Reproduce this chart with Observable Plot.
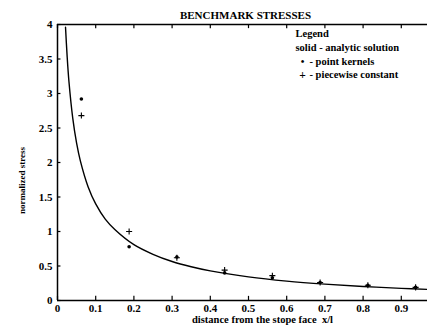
<!DOCTYPE html>
<html>
<head>
<meta charset="utf-8">
<script src="https://cdn.jsdelivr.net/npm/d3@7"></script>
<script src="https://cdn.jsdelivr.net/npm/@observablehq/plot@0.6"></script>
<style>
  html, body { margin: 0; padding: 0; background: #fff; }
  svg { display: block; }
  svg text { font-family: 'Liberation Serif', 'DejaVu Serif', serif !important; font-weight: bold; }
</style>
</head>
<body>
<div id="chart"></div>
<script>
// Analytic solution (solid curve)
const curveX = [0.021, 0.025, 0.03, 0.04, 0.05, 0.06, 0.08, 0.1, 0.125, 0.15, 0.2, 0.25, 0.3, 0.35, 0.4, 0.5, 0.6, 0.7, 0.8, 0.9, 0.97];
const curveY = [3.96, 3.56, 3.17, 2.64, 2.28, 2.02, 1.65, 1.40, 1.18, 1.03, 0.81, 0.67, 0.565, 0.489, 0.429, 0.342, 0.281, 0.237, 0.203, 0.176, 0.161];

// Sample positions
const sampleX = [0.0625, 0.1875, 0.3125, 0.4375, 0.5625, 0.6875, 0.8125, 0.9375];
// point kernels (dots)
const kernelY = [2.92, 0.78, 0.63, 0.40, 0.33, 0.26, 0.22, 0.19];
// piecewise constant (plus)
const piecewiseY = [2.68, 1.00, 0.62, 0.44, 0.36, 0.26, 0.22, 0.19];

const xTicks = [0, 0.1, 0.2, 0.3, 0.4, 0.5, 0.6, 0.7, 0.8, 0.9];
const yTicks = [0, 0.5, 1, 1.5, 2, 2.5, 3, 3.5, 4];

const title = "BENCHMARK STRESSES";
const xLabel = "distance from the stope face  x/l";
const yLabel = "normalized stress";
const legendLines = ["Legend", "solid - analytic solution"];
const legendSymbols = ["•", "+"];
const legendEntries = ["- point kernels", "- piecewise constant"];

const curve = curveX.map((x, i) => ({x, y: curveY[i]}));
const kernels = sampleX.map((x, i) => ({x, y: kernelY[i]}));
const piecewise = sampleX.map((x, i) => ({x, y: piecewiseY[i]}));

const font = "'Liberation Serif', 'DejaVu Serif', serif";
const T = {fontFamily: font, fontWeight: "bold"};

const chart = Plot.plot({
  width: 427,
  height: 334,
  marginLeft: 57,
  marginRight: 0,
  marginTop: 24,
  marginBottom: 34,
  style: {fontFamily: font, fontWeight: "bold", fontSize: "10px", background: "#fff", color: "#000"},
  x: {domain: [0, 0.9686]},
  y: {domain: [0, 4]},
  marks: [
    // frame lines (left, top, bottom)
    Plot.ruleX([0], {stroke: "#000", strokeWidth: 1.5}),
    Plot.ruleY([0], {stroke: "#000", strokeWidth: 1.5}),
    Plot.ruleY([4], {stroke: "#000", strokeWidth: 1.5}),
    // inward ticks
    Plot.ruleY(yTicks, {y: d => d, x1: 0, x2: 0.009, stroke: "#000", strokeWidth: 1.2}),
    Plot.ruleX(xTicks, {x: d => d, y1: 0, y2: 0.06, stroke: "#000", strokeWidth: 1.2}),
    Plot.ruleX(xTicks, {x: d => d, y1: 4, y2: 3.94, stroke: "#000", strokeWidth: 1.2}),
    // axis labels
    Plot.axisY(yTicks, {...T, tickSize: 0, tickPadding: 5, label: null, tickFormat: d => String(d), fontSize: 11}),
    Plot.axisX(xTicks, {...T, tickSize: 0, tickPadding: 4, label: null, tickFormat: d => String(d), fontSize: 11}),
    // curve
    Plot.line(curve, {x: "x", y: "y", curve: "catmull-rom", stroke: "#000", strokeWidth: 1.4}),
    // points
    Plot.dot(kernels, {x: "x", y: "y", r: 1.8, fill: "#000", stroke: "none"}),
    Plot.dot(piecewise, {x: "x", y: "y", symbol: "plus", r: 2.1, stroke: "#000", strokeWidth: 1.1, fill: "none"}),
    // title
    Plot.text([title], {...T, frameAnchor: "top", dx: 3, dy: -13, text: d => d, fontSize: 11}),
    // axis titles
    Plot.text([xLabel], {...T, frameAnchor: "bottom", dx: 20, dy: 22, text: d => d, fontSize: 10.5}),
    Plot.text([yLabel], {...T, x: () => -0.092, y: () => 1.74, rotate: -90, text: d => d, fontSize: 9}),
    // legend
    Plot.text([legendLines[0]], {...T, frameAnchor: "top-left", dx: 238, dy: 5, text: d => d, textAnchor: "start", fontSize: 10.5}),
    Plot.text([legendLines[1]], {...T, frameAnchor: "top-left", dx: 238, dy: 19, text: d => d, textAnchor: "start", fontSize: 10.5}),
    Plot.text([legendSymbols[0]], {...T, frameAnchor: "top-left", dx: 245, dy: 33, text: d => d, textAnchor: "middle", fontSize: 10.5}),
    Plot.text([legendEntries[0]], {...T, frameAnchor: "top-left", dx: 252, dy: 33, text: d => d, textAnchor: "start", fontSize: 10.5}),
    Plot.text([legendSymbols[1]], {...T, frameAnchor: "top-left", dx: 245, dy: 46, text: d => d, textAnchor: "middle", fontSize: 11.5}),
    Plot.text([legendEntries[1]], {...T, frameAnchor: "top-left", dx: 252, dy: 46, text: d => d, textAnchor: "start", fontSize: 10.5})
  ]
});
document.getElementById("chart").appendChild(chart);
</script>
</body>
</html>
